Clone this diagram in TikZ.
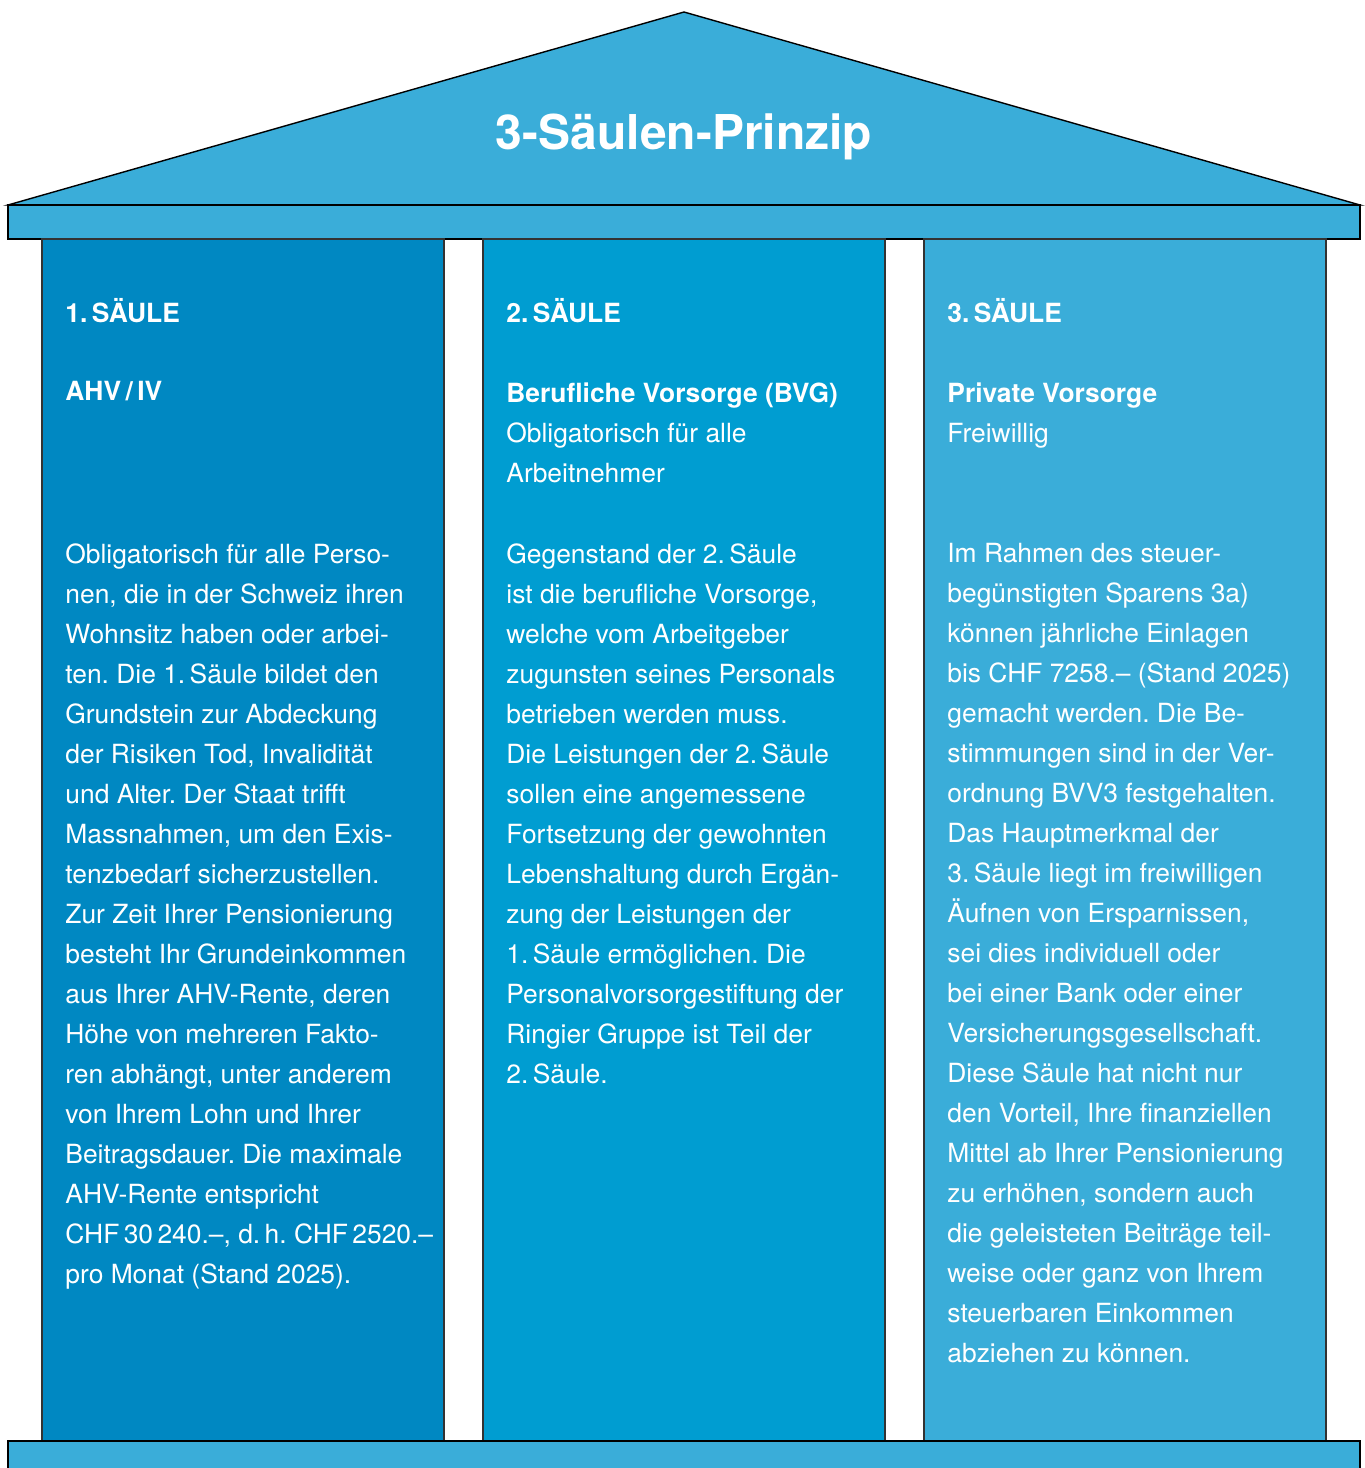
\documentclass[tikz,border=0pt]{standalone}
\usepackage{fontspec}
\setmainfont{TeX Gyre Heros}
\usetikzlibrary{positioning}
\definecolor{roofc}{RGB}{58,173,217}
\definecolor{colA}{RGB}{0,136,194}
\definecolor{colB}{RGB}{0,157,209}
\definecolor{colC}{RGB}{58,173,217}
\frenchspacing

\begin{document}
\begin{tikzpicture}[x=0.5pt,y=-0.5pt,
  txt/.style={text=white,font=\fontsize{13.2}{20}\selectfont,align=left,anchor=north west,inner sep=0pt},
  hd/.style={txt,font=\fontsize{13.2}{20}\selectfont\bfseries}]
  \useasboundingbox (0,0) rectangle (1365,1468);
  % roof, beam, pillars, base
  \draw[fill=roofc,line width=0.7pt] (8,205)--(684,12)--(1360,205)--cycle;
  \draw[fill=roofc,line width=0.7pt] (8,205) rectangle (1360,239);
  \foreach \xa/\cc in {42/colA,483/colB,924/colC}
    \draw[fill=\cc,line width=0.7pt,draw=black!80] (\xa,239) rectangle ++(402,1202);
  \draw[fill=roofc,line width=0.7pt] (8,1441) rectangle (1360,1500);
  \node[text=white,font=\fontsize{24}{28}\selectfont\bfseries] (title) at (684,137) {3-Säulen-Prinzip};
  % 1. Saeule (tops = baseline - 19)
  \node[hd] (h1) at (65,298) {1.\,SÄULE};
  \node[hd] (s1) at (65,381) {AHV\,/\,IV};
  \node[txt] (b1) at (65,543) {Obligatorisch für alle Perso-\\nen, die in der Schweiz ihren\\Wohnsitz haben oder arbei-\\ten. Die 1.\,Säule bildet den\\Grundstein zur Abdeckung\\der Risiken Tod, Invalidität\\und Alter. Der Staat trifft\\Massnahmen, um den Exis-\\tenzbedarf sicherzustellen.\\Zur Zeit Ihrer Pensionierung\\besteht Ihr Grundeinkommen\\aus Ihrer AHV-Rente, deren\\Höhe von mehreren Fakto-\\ren abhängt, unter anderem\\von Ihrem Lohn und Ihrer\\Beitragsdauer. Die maximale\\AHV-Rente entspricht\\CHF\,30\,240.–, d.\,h. CHF\,2520.–\\pro Monat (Stand 2025).};
  % 2. Saeule
  \node[hd] (h2) at (506,298) {2.\,SÄULE};
  \node[txt] (s2) at (506,382) {{\bfseries Berufliche Vorsorge (BVG)}\\Obligatorisch für alle\\Arbeitnehmer};
  \node[txt] (b2) at (506,543) {Gegenstand der 2.\,Säule\\ist die berufliche Vorsorge,\\welche vom Arbeitgeber\\zugunsten seines Personals\\betrieben werden muss.\\Die Leistungen der 2.\,Säule\\sollen eine angemessene\\Fortsetzung der gewohnten\\Lebenshaltung durch Ergän-\\zung der Leistungen der\\1.\,Säule ermöglichen. Die\\Personalvorsorgestiftung der\\Ringier Gruppe ist Teil der\\2.\,Säule.};
  % 3. Saeule
  \node[hd] (h3) at (947,298) {3.\,SÄULE};
  \node[txt] (s3) at (947,382) {{\bfseries Private Vorsorge}\\Freiwillig};
  \node[txt] (b3) at (947,543) {Im Rahmen des steuer-\\begünstigten Sparens 3a)\\können jährliche Einlagen\\bis CHF 7258.– (Stand 2025)\\gemacht werden. Die Be-\\stimmungen sind in der Ver-\\ordnung BVV3 festgehalten.\\Das Hauptmerkmal der\\3.\,Säule liegt im freiwilligen\\Äufnen von Ersparnissen,\\sei dies individuell oder\\bei einer Bank oder einer\\Versicherungsgesellschaft.\\Diese Säule hat nicht nur\\den Vorteil, Ihre finanziellen\\Mittel ab Ihrer Pensionierung\\zu erhöhen, sondern auch\\die geleisteten Beiträge teil-\\weise oder ganz von Ihrem\\steuerbaren Einkommen\\abziehen zu können.};
\end{tikzpicture}
\end{document}
